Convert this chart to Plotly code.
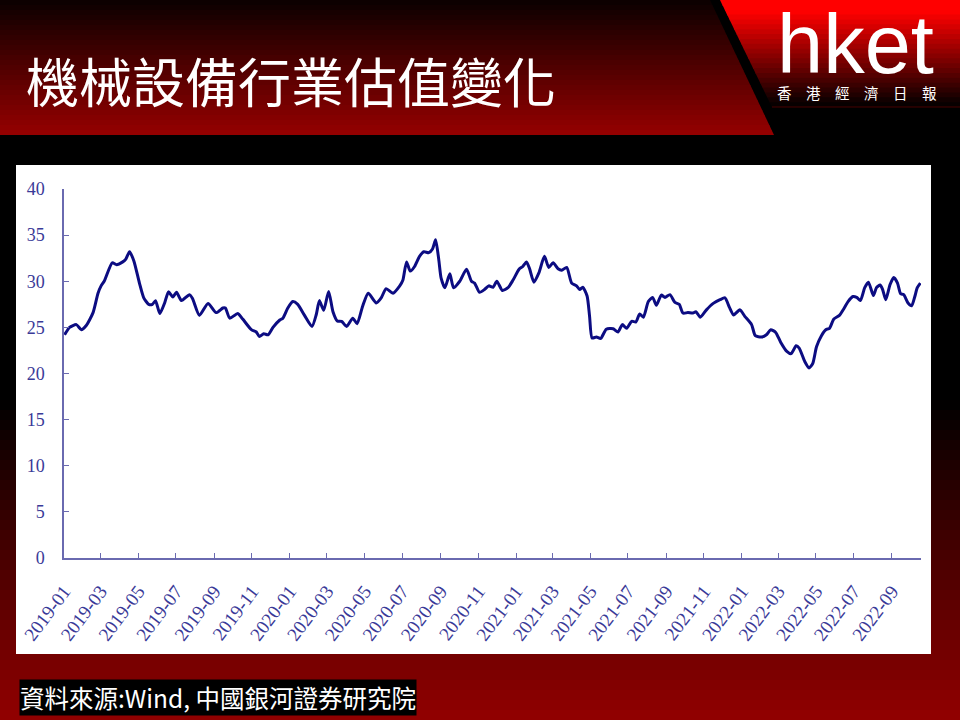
import plotly.graph_objects as go

# ---------------- data ----------------
dates = [
    "2019-01-02", "2019-01-10", "2019-01-21", "2019-01-29", "2019-02-06", "2019-02-17", "2019-02-25",
    "2019-03-02", "2019-03-07", "2019-03-20", "2019-03-27", "2019-04-06", "2019-04-11", "2019-04-17",
    "2019-04-24", "2019-05-03", "2019-05-10", "2019-05-18", "2019-05-24", "2019-05-29", "2019-06-05",
    "2019-06-13", "2019-06-19", "2019-06-26", "2019-07-02", "2019-07-10", "2019-07-23", "2019-07-28",
    "2019-08-08", "2019-08-22", "2019-09-04", "2019-09-15", "2019-09-19", "2019-09-26", "2019-10-09",
    "2019-10-17", "2019-10-31", "2019-11-08", "2019-11-13", "2019-11-20", "2019-11-27", "2019-12-05",
    "2019-12-16", "2019-12-21", "2019-12-29",
    "2020-01-06", "2020-01-14", "2020-01-25", "2020-02-06", "2020-02-13", "2020-02-18", "2020-02-25",
    "2020-03-04", "2020-03-11", "2020-03-18", "2020-03-25", "2020-04-02", "2020-04-12", "2020-04-19",
    "2020-04-28", "2020-05-07", "2020-05-20", "2020-05-28", "2020-06-05", "2020-06-16", "2020-06-27",
    "2020-07-02", "2020-07-08", "2020-07-14", "2020-07-21", "2020-07-29", "2020-08-05", "2020-08-13",
    "2020-08-19", "2020-08-24", "2020-08-29", "2020-09-02", "2020-09-08", "2020-09-16", "2020-09-22",
    "2020-10-02", "2020-10-13", "2020-10-21", "2020-10-26", "2020-11-03", "2020-11-11", "2020-11-18",
    "2020-11-25", "2020-12-01", "2020-12-10", "2020-12-19", "2020-12-27",
    "2021-01-06", "2021-01-12", "2021-01-18", "2021-01-23", "2021-01-30", "2021-02-07", "2021-02-16",
    "2021-02-23", "2021-03-02", "2021-03-10", "2021-03-16", "2021-03-24", "2021-04-01", "2021-04-09",
    "2021-04-14", "2021-04-19", "2021-04-26", "2021-04-30", "2021-05-04", "2021-05-11", "2021-05-18",
    "2021-05-27", "2021-06-07", "2021-06-15", "2021-06-22", "2021-06-29", "2021-07-07", "2021-07-14",
    "2021-07-20", "2021-07-26", "2021-08-03", "2021-08-10", "2021-08-16", "2021-08-24", "2021-08-30",
    "2021-09-07", "2021-09-15", "2021-09-22", "2021-09-28", "2021-10-06", "2021-10-14", "2021-10-19",
    "2021-10-26", "2021-11-05", "2021-11-16", "2021-11-27", "2021-12-05", "2021-12-12", "2021-12-19",
    "2021-12-29",
    "2022-01-06", "2022-01-17", "2022-01-23", "2022-02-02", "2022-02-10", "2022-02-17", "2022-02-25",
    "2022-03-05", "2022-03-15", "2022-03-22", "2022-03-30", "2022-04-04", "2022-04-13", "2022-04-20",
    "2022-04-26", "2022-05-02", "2022-05-10", "2022-05-17", "2022-05-23", "2022-05-30", "2022-06-08",
    "2022-06-15", "2022-06-22", "2022-06-30", "2022-07-06", "2022-07-12", "2022-07-19", "2022-07-25",
    "2022-08-02", "2022-08-07", "2022-08-13", "2022-08-17", "2022-08-22", "2022-08-29", "2022-09-04",
    "2022-09-10", "2022-09-15", "2022-09-20", "2022-09-27", "2022-10-03", "2022-10-08", "2022-10-12",
    "2022-10-17",
]

pe_values = [
    24.2, 25.0, 25.3, 24.75, 25.2, 26.6, 28.7,
    29.5, 30.0, 32.0, 31.8, 32.1, 32.4, 33.2,
    32.2, 29.8, 28.2, 27.5, 27.5, 27.9, 26.5,
    27.7, 28.85, 28.3, 28.8, 27.9, 28.55, 28.1,
    26.3, 27.6, 26.6, 27.1, 27.1, 26.0, 26.5,
    25.9, 24.75, 24.5, 24.0, 24.3, 24.2, 25.0,
    25.8, 26.0, 27.1,
    27.8, 27.5, 26.3, 25.1, 26.4, 27.9, 26.85,
    28.9, 26.7, 25.7, 25.65, 25.1, 26.0, 25.4,
    27.3, 28.7, 27.65, 28.2, 29.2, 28.7, 29.5,
    30.1, 32.1, 31.1, 31.6, 32.7, 33.2, 33.1,
    33.5, 34.5, 32.4, 30.3, 29.3, 30.8, 29.3,
    30.0, 31.3, 30.0, 29.8, 28.8, 29.1, 29.5,
    29.35, 30.0, 29.0, 29.3, 30.1,
    31.3, 31.6, 32.1, 31.35, 29.9, 30.9, 32.7,
    31.5, 32.0, 31.35, 31.2, 31.5, 29.8, 29.5,
    29.1, 29.35, 28.4, 26.2, 23.85, 23.95, 23.8,
    24.8, 24.85, 24.5, 25.3, 24.9, 25.65, 25.6,
    26.45, 26.1, 27.8, 28.25, 27.4, 28.5, 28.25,
    28.55, 27.7, 27.5, 26.55, 26.6, 26.55, 26.7,
    26.1, 26.9, 27.6, 28.0, 28.2, 27.2, 26.35,
    26.9,
    26.2, 25.3, 24.1, 23.95, 24.2, 24.75, 24.45,
    23.4, 22.4, 22.15, 23.0, 22.75, 21.3, 20.6,
    21.1, 22.9, 24.1, 24.75, 24.9, 25.9, 26.3,
    27.0, 27.8, 28.35, 28.25, 27.9, 29.3, 29.9,
    28.45, 29.3, 29.6, 29.1, 28.0, 29.65, 30.4,
    29.8, 28.65, 28.55, 27.65, 27.35, 28.35, 29.3,
    29.8,
]

x_tick_vals = [
    "2019-01-01", "2019-03-01", "2019-05-01", "2019-07-01", "2019-09-01", "2019-11-01",
    "2020-01-01", "2020-03-01", "2020-05-01", "2020-07-01", "2020-09-01", "2020-11-01",
    "2021-01-01", "2021-03-01", "2021-05-01", "2021-07-01", "2021-09-01", "2021-11-01",
    "2022-01-01", "2022-03-01", "2022-05-01", "2022-07-01", "2022-09-01",
]
x_tick_labels = [
    "2019-01", "2019-03", "2019-05", "2019-07", "2019-09", "2019-11",
    "2020-01", "2020-03", "2020-05", "2020-07", "2020-09", "2020-11",
    "2021-01", "2021-03", "2021-05", "2021-07", "2021-09", "2021-11",
    "2022-01", "2022-03", "2022-05", "2022-07", "2022-09",
]
y_tick_vals = [0, 5, 10, 15, 20, 25, 30, 35, 40]
y_tick_labels = ["0", "5", "10", "15", "20", "25", "30", "35", "40"]
x_range = ["2019-01-01", "2022-10-18"]
y_range = [0, 40]

title_text = "機械設備行業估值變化"
source_text = "資料來源:Wind, 中國銀河證券研究院"
logo_text = "hket"
logo_sub = "香\u3000港\u3000經\u3000濟\u3000日\u3000報"

# ---------------- layout geometry (pixels) ----------------
W, H = 960, 720
ML, MR, MT, MB = 64, 39, 189, 162
PW = W - ML - MR
PH = H - MT - MB


def px(x):
    return (x - ML) / PW


def py(y):
    return (H - MB - y) / PH


def lerp_color(c0, c1, t):
    t = max(0.0, min(1.0, t))
    r = round(c0[0] + (c1[0] - c0[0]) * t)
    g = round(c0[1] + (c1[1] - c0[1]) * t)
    b = round(c0[2] + (c1[2] - c0[2]) * t)
    return f"rgb({r},{g},{b})"


shapes = []

# background gradient (black -> dark red toward the bottom)
y0g, y1g = 400, 720
n = 32
for i in range(n):
    ya = y0g + (y1g - y0g) * i / n
    yb = y0g + (y1g - y0g) * (i + 1) / n + 1
    col = lerp_color((0, 0, 0), (146, 0, 0), (i + 0.5) / n)
    shapes.append(dict(type="rect", xref="paper", yref="paper",
                       x0=px(0), x1=px(W), y0=py(yb), y1=py(ya),
                       fillcolor=col, line=dict(width=0), layer="below"))

# white chart panel
shapes.append(dict(type="rect", xref="paper", yref="paper",
                   x0=px(16), x1=px(931), y0=py(654), y1=py(165),
                   fillcolor="white", line=dict(width=0), layer="below"))

# title banner (diagonal right edge, gradient black -> red)
n = 27
for i in range(n):
    ya = 135 * i / n
    yb = min(135, 135 * (i + 1) / n + 0.8)
    xa = 710 + 0.474 * ya
    xb = 710 + 0.474 * yb
    col = lerp_color((10, 0, 0), (150, 0, 0), (i + 0.5) / n)
    path = (f"M {px(0)},{py(ya)} L {px(xa)},{py(ya)} L {px(xb)},{py(yb)} "
            f"L {px(0)},{py(yb)} Z")
    shapes.append(dict(type="path", xref="paper", yref="paper", path=path,
                       fillcolor=col, line=dict(width=0), layer="below"))

# logo block (red -> black)
n = 22
for i in range(n):
    ya = 107 * i / n
    yb = min(107, 107 * (i + 1) / n + 0.8)
    xa = 720 + 0.485 * ya
    xb = 720 + 0.485 * yb
    ym = (ya + yb) / 2
    t = (ym - 12) / 92
    col = lerp_color((255, 0, 0), (8, 0, 0), t)
    path = (f"M {px(xa)},{py(ya)} L {px(W)},{py(ya)} L {px(W)},{py(yb)} "
            f"L {px(xb)},{py(yb)} Z")
    shapes.append(dict(type="path", xref="paper", yref="paper", path=path,
                       fillcolor=col, line=dict(width=0), layer="below"))
shapes.append(dict(type="line", xref="paper", yref="paper",
                   x0=px(772), x1=px(W), y0=py(107), y1=py(107),
                   line=dict(color="rgb(70,0,0)", width=1), layer="below"))

annotations = [
    dict(text=title_text, xref="paper", yref="paper", x=px(24), y=py(80),
         xanchor="left", yanchor="middle", showarrow=False,
         font=dict(family="Noto Sans CJK TC", size=53, color="white")),
    dict(text=logo_text, xref="paper", yref="paper", x=px(855), y=py(44),
         xanchor="center", yanchor="middle", showarrow=False,
         font=dict(family="Liberation Sans", size=83, color="white")),
    dict(text=logo_sub, xref="paper", yref="paper", x=px(857), y=py(92),
         xanchor="center", yanchor="middle", showarrow=False,
         font=dict(family="Noto Sans CJK TC", size=14.5, color="white")),
    dict(text=source_text, xref="paper", yref="paper", x=px(19), y=py(697),
         xanchor="left", yanchor="middle", showarrow=False,
         bgcolor="black", borderpad=0,
         font=dict(family="Noto Sans CJK TC", size=24.5, color="white")),
]

axis_col = "#6a6ab0"
y_tick_font = dict(family="Liberation Serif", size=18, color="#3a3a98")
x_tick_font = dict(family="Liberation Serif", size=19, color="#3a3a98")

fig = go.Figure()
fig.add_trace(go.Scatter(
    x=dates, y=pe_values, mode="lines",
    line=dict(color="#0c0c82", width=3, shape="spline", smoothing=0.6),
    hoverinfo="x+y", showlegend=False,
))

fig.update_layout(
    width=W, height=H,
    margin=dict(l=ML, r=MR, t=MT, b=MB, pad=0),
    paper_bgcolor="black",
    plot_bgcolor="white",
    shapes=shapes,
    annotations=annotations,
    showlegend=False,
    xaxis=dict(
        type="date", range=x_range, tickvals=x_tick_vals, ticktext=x_tick_labels,
        tickangle=-53, ticks="inside", ticklen=5, tickcolor=axis_col, tickwidth=1,
        showline=True, linecolor=axis_col, linewidth=1.5, showgrid=False,
        zeroline=False, tickfont=x_tick_font, ticklabelstandoff=13,
    ),
    yaxis=dict(
        range=y_range, tickvals=y_tick_vals, ticktext=y_tick_labels,
        ticks="inside", ticklen=5, tickcolor=axis_col, tickwidth=1,
        showline=True, linecolor=axis_col, linewidth=1.5, showgrid=False,
        zeroline=False, tickfont=y_tick_font, ticklabelstandoff=14,
    ),
)

fig.write_html(
    "out.html",
    config={"displayModeBar": False},
    post_script="document.body.style.margin='0';document.body.style.overflow='hidden';",
)
